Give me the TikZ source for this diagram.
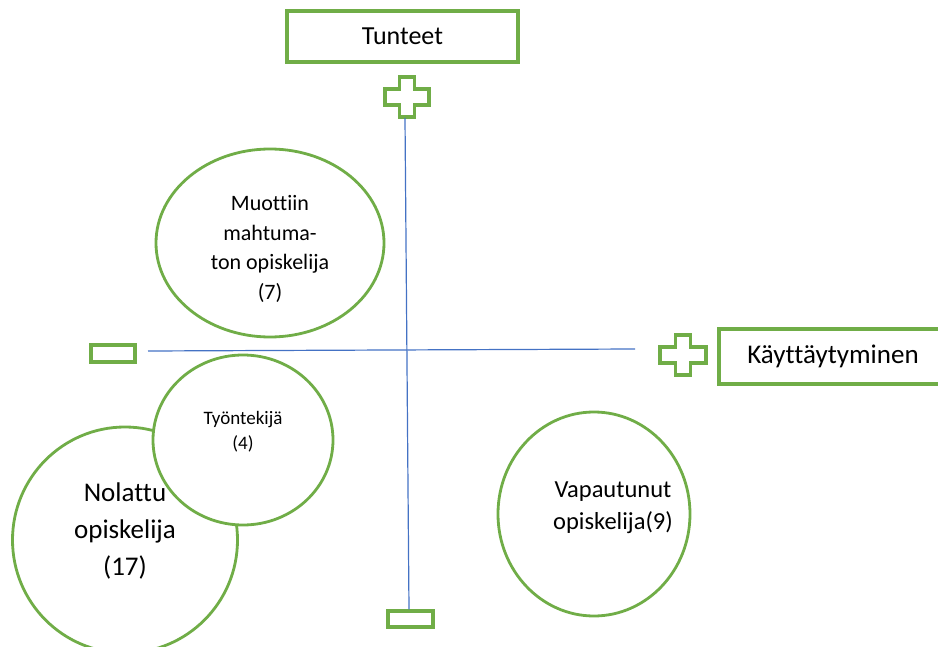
\documentclass[tikz,border=0pt]{standalone}
\usepackage{fontspec}
\setmainfont{Carlito}[Ligatures=NoCommon]
\usetikzlibrary{shapes.geometric}
\definecolor{grn}{HTML}{70AD47}
\definecolor{axblue}{HTML}{4472C4}
\tikzset{
  oval/.style={ellipse, draw=grn, line width=2.8pt, fill=white, inner sep=0pt},
  gbox/.style={rectangle, draw=grn, line width=3.2pt, fill=white, inner sep=0pt},
  axisline/.style={draw=axblue, line width=1.2pt},
  lbl/.style={align=center, inner sep=0pt, text=black},
  plussign/.pic={\draw[grn, line width=3.2pt, fill=white, line join=miter]
     (-#1,-8) -- (-7.5,-8) -- (-7.5,-20) -- (7.5,-20) -- (7.5,-8) -- (#1,-8)
     -- (#1,8) -- (7.5,8) -- (7.5,20) -- (-7.5,20) -- (-7.5,8) -- (-#1,8) -- cycle;}
}
\begin{document}
\begin{tikzpicture}[x=1pt, y=-1pt]
\useasboundingbox (0,0) rectangle (938,647);
\clip (0,0) rectangle (938,647);

% top box
\node[gbox, minimum width=231pt, minimum height=51pt,
      font=\fontsize{26}{30}\selectfont] (tunteet) at (402.5,36.5) {Tunteet};
% right box
\node[gbox, minimum width=224pt, minimum height=55pt,
      font=\fontsize{27}{31}\selectfont] (kayt) at (831,356.5) {\hspace*{4pt}Käyttäytyminen};

% plus signs
\pic (plustop) at (407,97) {plussign=22};
\pic (plusright) at (683,355) {plussign=23};

% minus boxes
\node[gbox, minimum width=44pt, minimum height=17pt] (minusleft) at (113,353.5) {};
\node[gbox, minimum width=45pt, minimum height=16pt] (minusbottom) at (410.5,619) {};

% axes
\coordinate (vtop) at (405,118);
\coordinate (hleft) at (148,351);
\coordinate (hright) at (635,349);
\draw[axisline] (vtop) -- (minusbottom.north -| 409,0);
\draw[axisline] (hleft) -- (hright);

% ellipses
\node[oval, minimum width=225pt, minimum height=226pt] (nolattu) at (125,540) {};
\node[oval, minimum width=180pt, minimum height=170pt] (tyon) at (243,440) {};
\node[oval, minimum width=228pt, minimum height=188pt] (muotti) at (270,243) {};
\node[oval, minimum width=192pt, minimum height=204pt] (vapaut) at (594,514) {};

% labels
\node[lbl, font=\fontsize{22}{29.7}\selectfont] (tmuotti) at (270,249)
  {Muottiin\\mahtuma-\\ton opiskelija\\(7)};
\node[lbl, font=\fontsize{19}{25}\selectfont] (ttyon) at (243,432)
  {Työntekijä\\(4)};
\node[lbl, font=\fontsize{27}{37}\selectfont] (tnolattu) at (125,531)
  {Nolattu\\opiskelija\\(17)};
\node[lbl, font=\fontsize{24.5}{32}\selectfont] (tvapaut) at (613,508)
  {Vapautunut\\opiskelija(9)};
\end{tikzpicture}
\end{document}
